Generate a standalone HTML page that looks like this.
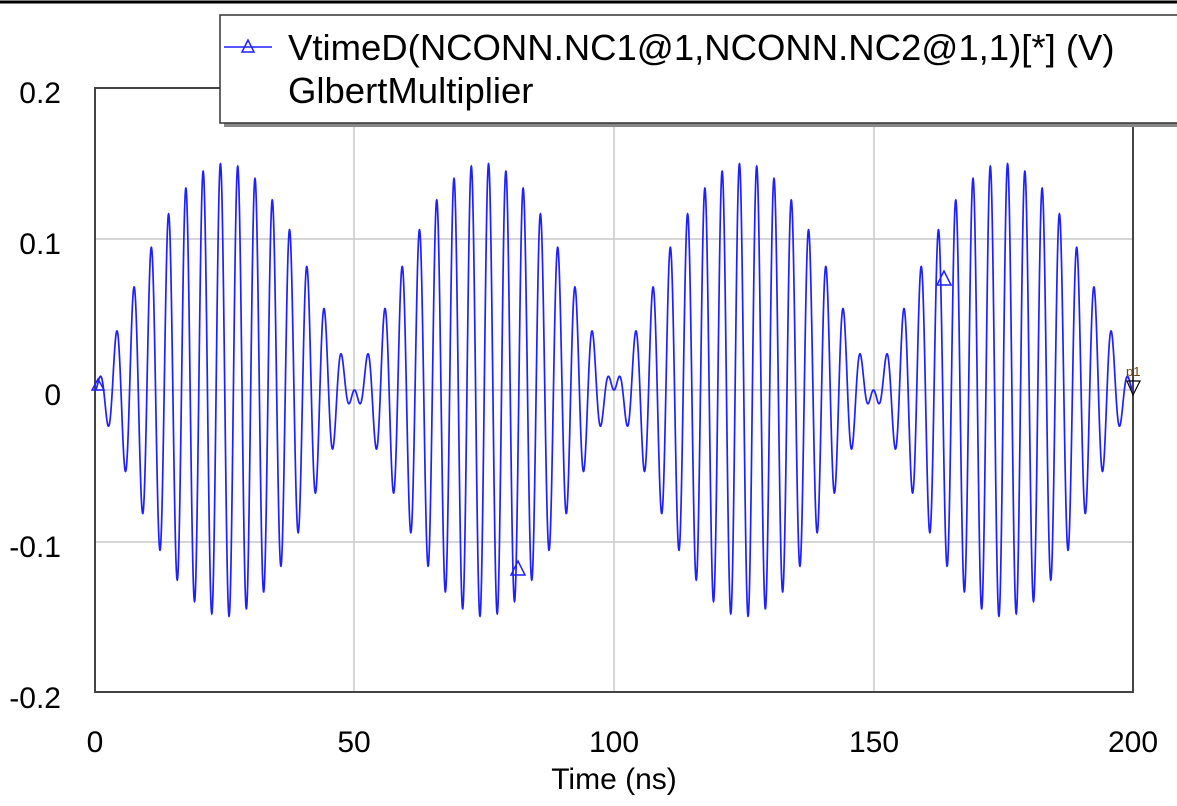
<!DOCTYPE html>
<html><head><meta charset="utf-8"><style>
body{margin:0;background:#fff;width:1177px;height:801px;overflow:hidden;font-family:"Liberation Sans",Arial,sans-serif}
</style></head><body>
<svg width="1177" height="801" xmlns="http://www.w3.org/2000/svg" font-family="Liberation Sans, Arial, sans-serif">
<line x1="0" y1="2" x2="1177" y2="2" stroke="#000" stroke-width="3"/>
<g stroke="#c8c8c8" stroke-width="1.5">
<line x1="354" y1="88" x2="354" y2="692"/><line x1="614" y1="88" x2="614" y2="692"/><line x1="874" y1="88" x2="874" y2="692"/>
<line x1="95" y1="239" x2="1133" y2="239"/><line x1="95" y1="390" x2="1133" y2="390"/><line x1="95" y1="542" x2="1133" y2="542"/>
</g>
<rect x="95" y="88" width="1038" height="604" fill="none" stroke="#444" stroke-width="2"/>
<path id="sig" fill="none" stroke="#1f1fff" stroke-width="1.7"/>
<g fill="none" stroke="#1f1fff" stroke-width="1.5">
<polygon points="98,379 92,390 104,390"/>
<polygon points="518,561 511,575 525,575"/>
<polygon points="944,271 937,285 951,285"/>
</g>
<polygon points="1127,381 1140,381 1133,395" fill="none" stroke="#000" stroke-width="1.2"/>
<text x="1126" y="376" font-size="13" fill="#704000">p1</text>
<g font-size="30" fill="#000" text-anchor="end">
<text x="61" y="103">0.2</text><text x="61" y="254">0.1</text><text x="61" y="405">0</text>
<text x="61" y="557">-0.1</text><text x="61" y="708">-0.2</text>
</g>
<g font-size="30" fill="#000" text-anchor="middle">
<text x="95" y="752">0</text><text x="354" y="752">50</text><text x="614" y="752">100</text>
<text x="874" y="752">150</text><text x="1133" y="752">200</text>
<text x="614" y="789">Time (ns)</text>
</g>
<rect x="224" y="19" width="960" height="108" fill="#888"/>
<rect x="220" y="15" width="960" height="108" fill="#fff" stroke="#333" stroke-width="1.5"/>
<line x1="224" y1="47" x2="272" y2="47" stroke="#1f1fff" stroke-width="1.5"/>
<polygon points="248,40 242,52 254,52" fill="none" stroke="#1f1fff" stroke-width="1.5"/>
<text x="288" y="60" font-size="36.5" fill="#000">VtimeD(NCONN.NC1@1,NCONN.NC2@1,1)[*] (V)</text>
<text x="288" y="103" font-size="36.5" fill="#000">GlbertMultiplier</text>
</svg>
<script>
var d="";for(var i=0;i<=8000;i++){var t=i*200/8000;var v=0.15*Math.sin(2*Math.PI*0.01*t)*Math.sin(2*Math.PI*0.3*t);
var x=95+t*5.19,y=390-v*1510;d+=(i?"L":"M")+x.toFixed(2)+","+y.toFixed(2);}
document.getElementById("sig").setAttribute("d",d);
</script>
</body></html>
